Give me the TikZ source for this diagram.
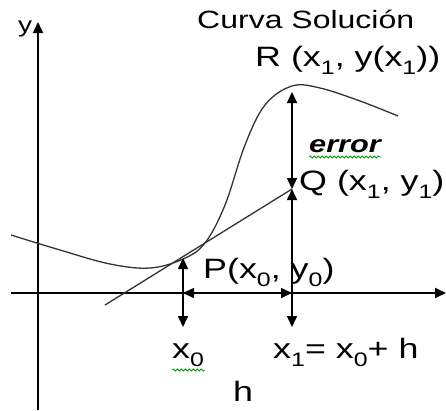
\documentclass[tikz,border=0pt]{standalone}
\usepackage{fontspec}
\setmainfont{Liberation Sans}
\usetikzlibrary{arrows.meta,decorations.pathmorphing}
\newcommand\wide[1]{\scalebox{1.28}[1]{#1}}
\newcommand\sbs[1]{\raisebox{-0.3em}{\fontsize{19.5}{22}\selectfont #1}}
\begin{document}
\begin{tikzpicture}[x=1pt,y=-1pt,
  axis/.style={line width=1.8pt, -{Triangle[length=11pt,width=10pt]}},
  dbl/.style={line width=1.6pt, {Triangle[length=11pt,width=10pt]}-{Triangle[length=11pt,width=10pt]}},
  crv/.style={line width=1.3pt, draw=black!80},
  lbl/.style={anchor=base west, inner sep=0pt, font=\fontsize{28}{32}\selectfont},
  ttl/.style={anchor=base west, inner sep=0pt, font=\fontsize{25}{28}\selectfont},
  squig/.style={draw=green!60!black, decorate, decoration={snake, amplitude=1pt, segment length=4pt}, line width=0.8pt}]
\useasboundingbox (0,0) rectangle (446,410);
% coordinates
\coordinate (ybot) at (38,410);
\coordinate (ytop) at (38,22);
\coordinate (xl) at (11,293);
\coordinate (xr) at (446,293);
\coordinate (P) at (183,258);
\coordinate (Q) at (292,189);
\coordinate (R) at (292,92);
\coordinate (x0b) at (183,327);
\coordinate (x1b) at (292,327);
\coordinate (h0) at (183,293);
\coordinate (h1) at (292,293);
\coordinate (t0) at (105,305);
% axes
\draw[axis] (ybot) -- (ytop);
\draw[axis] (xl) -- (xr);
% solution curve
\draw[crv] plot[smooth,tension=0.6] coordinates {(11,235) (60,250) (110,264) (150,268) (183,259) (205,243) (225,205) (245,145) (265,105) (292,86) (320,88) (360,101) (398,116)};
% tangent
\draw[crv] (t0) -- (Q);
% arrows
\draw[dbl] (x0b) -- (P);
\draw[dbl] (x1b) -- (Q);
\draw[dbl] (Q) -- (R);
\draw[dbl] (h0) -- (h1);
% labels
\node[ttl] (ttl) at (197,28) {\wide{Curva Solución}};
\node[lbl] (Rl) at (255,66) {\wide{R (x\sbs{1}, y(x\sbs{1}))}};
\node[lbl, font=\fontsize{24}{28}\selectfont\bfseries\itshape] (err) at (309,152) {\wide{error}};
\node[lbl] (Ql) at (299,190) {\wide{Q (x\sbs{1}, y\sbs{1})}};
\node[lbl] (Pl) at (203,278) {\wide{P(x\sbs{0}, y\sbs{0})}};
\node[lbl] (x0l) at (172,358) {\wide{x\sbs{0}}};
\node[lbl] (x1l) at (273,358) {\wide{x\sbs{1}= x\sbs{0}+ h}};
\node[lbl] (hl) at (233,401) {\wide{h}};
\node[ttl, font=\fontsize{22}{25}\selectfont] (yl) at (18,32) {\wide{y}};
\draw[squig] (309,157) -- (381,157);
\draw[squig] (172,370) -- (205,370);
\end{tikzpicture}
\end{document}
